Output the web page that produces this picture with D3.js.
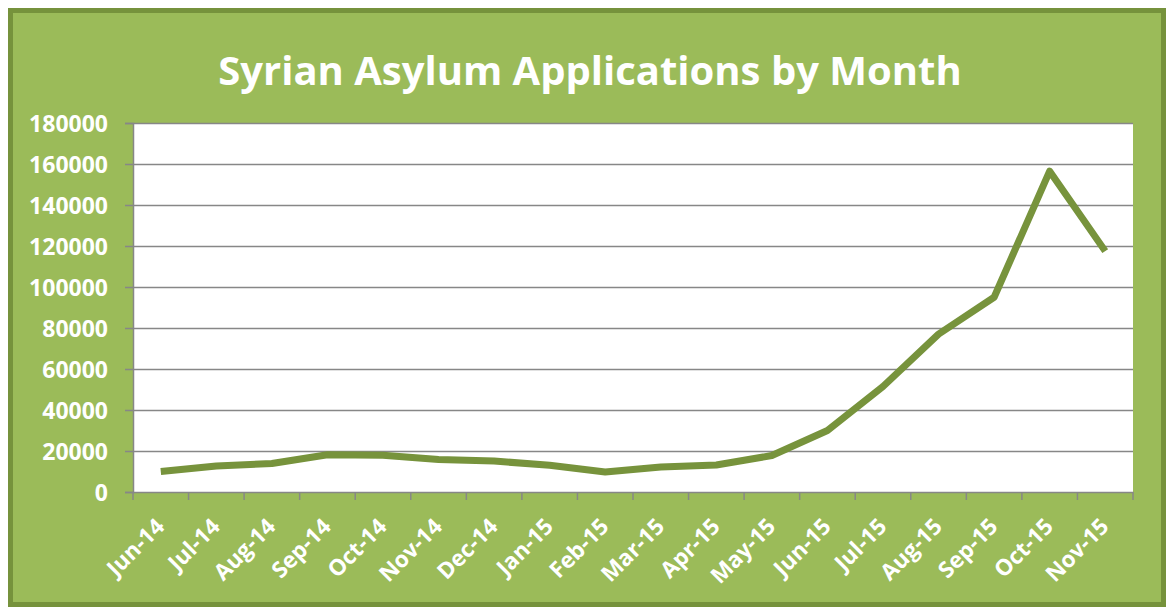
<!DOCTYPE html>
<html>
<head>
<meta charset="utf-8">
<script src="https://cdn.jsdelivr.net/npm/d3@7"></script>
<style>
  html, body { margin: 0; padding: 0; background: #ffffff; }
  svg { display: block; }
</style>
</head>
<body>
<svg id="chart" width="1168" height="608"></svg>
<script>
const titleText = "Syrian Asylum Applications by Month";
const months = ["Jun-14","Jul-14","Aug-14","Sep-14","Oct-14","Nov-14","Dec-14","Jan-15","Feb-15",
                "Mar-15","Apr-15","May-15","Jun-15","Jul-15","Aug-15","Sep-15","Oct-15","Nov-15"];
const applications = [10000, 12700, 13900, 18200, 17900, 15800, 15100, 13000, 9800,
                      12200, 13200, 17800, 30000, 51500, 77000, 95000, 156500, 117500];
const yTicks = [0, 20000, 40000, 60000, 80000, 100000, 120000, 140000, 160000, 180000];

const svg = d3.select("#chart");
const fontFam = "'Open Sans', 'DejaVu Sans', sans-serif";

// outer box
svg.append("rect")
  .attr("x", 10.5).attr("y", 10.5)
  .attr("width", 1153).attr("height", 594)
  .attr("fill", "#9BBB59")
  .attr("stroke", "#76923C")
  .attr("stroke-width", 5);

const plot = { left: 133, right: 1133, top: 123, bottom: 492 };

const x = d3.scaleBand().domain(months).range([plot.left, plot.right]).paddingInner(0).paddingOuter(0);
const y = d3.scaleLinear().domain([0, 180000]).range([plot.bottom, plot.top]);

// plot area
svg.append("rect")
  .attr("x", plot.left).attr("y", plot.top)
  .attr("width", plot.right - plot.left).attr("height", plot.bottom - plot.top)
  .attr("fill", "#ffffff");

// gridlines
svg.append("g").selectAll("line").data(yTicks.filter(d => d > 0)).join("line")
  .attr("x1", plot.left).attr("x2", plot.right)
  .attr("y1", d => Math.round(y(d)) + 0.5).attr("y2", d => Math.round(y(d)) + 0.5)
  .attr("stroke", "#878787").attr("stroke-width", 1.5);

// y axis
const yAxis = svg.append("g")
  .attr("transform", `translate(${plot.left},0)`)
  .call(d3.axisLeft(y).tickValues(yTicks).tickSize(8).tickPadding(17).tickFormat(d3.format("d")));
yAxis.select(".domain").attr("stroke", "#878787").attr("stroke-width", 1.5);
yAxis.selectAll(".tick line").attr("stroke", "#878787").attr("stroke-width", 1.5);
yAxis.selectAll(".tick text")
  .attr("fill", "#ffffff")
  .attr("font-family", fontFam)
  .attr("font-weight", "bold")
  .attr("font-size", 23)
  .attr("dy", "0.36em");

// x axis line + boundary ticks
const xAxis = svg.append("g")
  .attr("transform", `translate(0,${plot.bottom})`)
  .call(d3.axisBottom(x).tickSize(0).tickFormat(""));
xAxis.select(".domain").attr("stroke", "#878787").attr("stroke-width", 1.5);
xAxis.selectAll(".tick").remove();
const bounds = months.map(m => x(m)).concat([x(months[months.length - 1]) + x.bandwidth()]);
xAxis.selectAll("line.bt").data(bounds).join("line")
  .attr("class", "bt")
  .attr("x1", d => d).attr("x2", d => d)
  .attr("y1", 0).attr("y2", 8)
  .attr("stroke", "#878787").attr("stroke-width", 1.5);

// x labels rotated
svg.append("g").selectAll("text").data(months).join("text")
  .attr("transform", d => `translate(${x(d) + x.bandwidth() / 2 + 5},${plot.bottom + 36}) rotate(-45)`)
  .attr("text-anchor", "end")
  .attr("fill", "#ffffff")
  .attr("font-family", fontFam)
  .attr("font-weight", "bold")
  .attr("font-size", 22.5)
  .text(d => d);

// line
const line = d3.line()
  .x((d, i) => x(months[i]) + x.bandwidth() / 2)
  .y(d => y(d));
svg.append("path")
  .datum(applications)
  .attr("d", line)
  .attr("fill", "none")
  .attr("stroke", "#77933C")
  .attr("stroke-width", 7)
  .attr("stroke-linejoin", "round")
  .attr("stroke-linecap", "butt");

// title
const t = svg.append("text")
  .attr("x", 590).attr("y", 85)
  .attr("text-anchor", "middle")
  .attr("fill", "#ffffff")
  .attr("font-family", fontFam)
  .attr("font-weight", "bold")
  .attr("font-size", 40)
  .text(titleText);
const tw = t.node().getComputedTextLength();
if (tw > 744) t.attr("textLength", 744).attr("lengthAdjust", "spacingAndGlyphs");
</script>
</body>
</html>
